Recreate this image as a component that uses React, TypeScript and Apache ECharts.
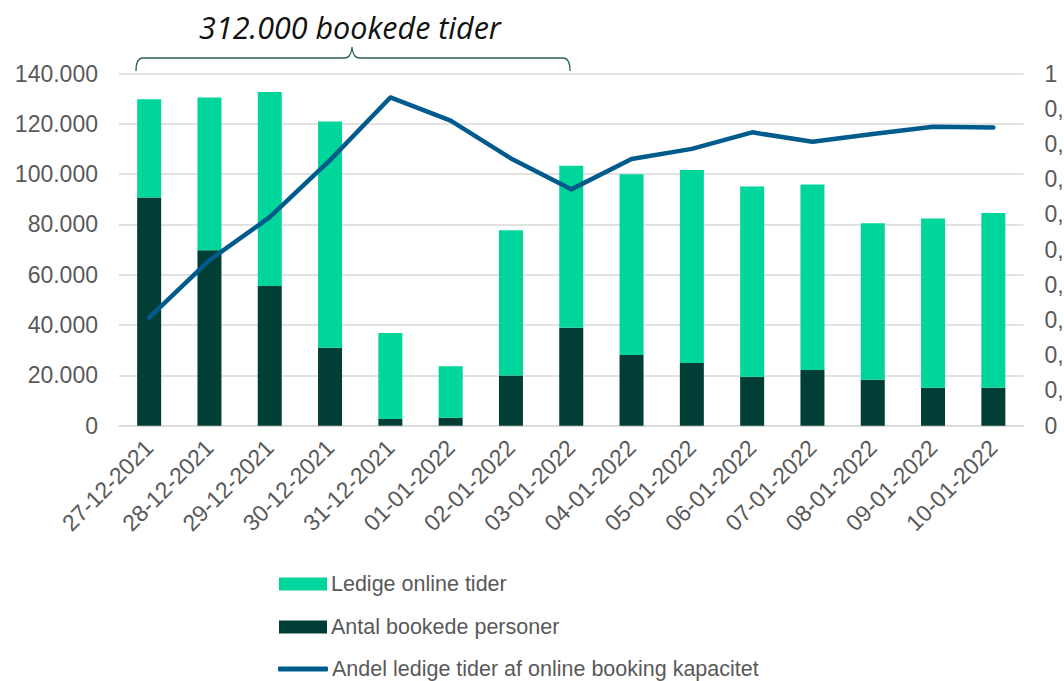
import React, { useEffect, useRef } from "react";
import * as echarts from "echarts";

const categories = [
  "27-12-2021", "28-12-2021", "29-12-2021", "30-12-2021", "31-12-2021",
  "01-01-2022", "02-01-2022", "03-01-2022", "04-01-2022", "05-01-2022",
  "06-01-2022", "07-01-2022", "08-01-2022", "09-01-2022", "10-01-2022",
];
const bookedPersons = [90700, 69700, 55500, 31000, 2700, 3200, 20000, 38900, 28100, 24900, 19500, 22100, 18300, 15100, 15100];
const availableSlots = [39100, 60800, 77100, 89900, 34100, 20400, 57700, 64400, 71900, 76700, 75600, 73800, 62200, 67300, 69400];
const availableShare = [0.307, 0.47, 0.592, 0.754, 0.932, 0.866, 0.759, 0.671, 0.757, 0.786, 0.833, 0.806, 0.828, 0.849, 0.847];

const seriesNames = ["Ledige online tider", "Antal bookede personer", "Andel ledige tider af online booking kapacitet"];
const annotation = "312.000 bookede tider";

const LIGHT = "#00d69b";
const DARK = "#013e35";
const BLUE = "#005b8d";
const LABEL = "#595959";
const GRID = "#d9d9d9";
const FONT = "'Liberation Sans', Arial, sans-serif";

const bracePath =
  "M136,71 C136,63 138,58 143,58 L344,58 C349,58 351,55 352,47 C353,55 355,58 360,58 L563,58 C568,58 570,63 570,71";

let registered = false;
function registerBrace() {
  if (registered) return;
  registered = true;
  echarts.graphic.registerShape("brace", echarts.graphic.extendPath(bracePath, {}) as any);
}

const fmtThousands = (v: number) => String(v).replace(/\B(?=(\d{3})+(?!\d))/g, ".");
const fmtShare = (v: number) => {
  if (v === 0) return "0";
  if (Math.abs(v - 1) < 1e-9) return "1";
  return v.toFixed(1).replace(".", ",");
};

export default function App() {
  const ref = useRef<HTMLDivElement>(null);
  useEffect(() => {
    if (!ref.current) return;
    registerBrace();
    const chart = echarts.init(ref.current, undefined, { renderer: "svg" });
    const legendCommon = {
      orient: "horizontal" as const,
      left: 279,
      padding: 0,
      itemWidth: 48,
      itemHeight: 13,
      selectedMode: false,
      textStyle: { color: LABEL, fontSize: 21.5, fontFamily: FONT, padding: [0, 0, 0, -1] },
    };
    chart.setOption({
      animation: false,
      backgroundColor: "#ffffff",
      grid: { left: 119, right: 40.5, top: 73.5, bottom: 255.3, containLabel: false, outerBoundsMode: "none" },
      legend: [
        { ...legendCommon, top: 573, data: [{ name: seriesNames[0], icon: "rect" }] },
        { ...legendCommon, top: 616, data: [{ name: seriesNames[1], icon: "rect" }] },
        { ...legendCommon, top: 658, itemWidth: 50, itemHeight: 5, left: 278, data: [{ name: seriesNames[2], icon: "roundRect" }] },
      ],
      xAxis: {
        type: "category",
        data: categories,
        axisLine: { show: true, lineStyle: { color: GRID, width: 1.5 } },
        axisTick: { show: false },
        axisLabel: {
          rotate: 45,
          margin: 18,
          color: LABEL,
          fontSize: 23,
          fontFamily: FONT,
          interval: 0,
        },
      },
      yAxis: [
        {
          type: "value",
          min: 0,
          max: 140000,
          interval: 20000,
          axisLine: { show: false },
          axisTick: { show: false },
          splitLine: { show: true, lineStyle: { color: GRID, width: 1.5 } },
          axisLabel: { color: LABEL, fontSize: 23, fontFamily: FONT, margin: 21, formatter: fmtThousands },
        },
        {
          type: "value",
          min: 0,
          max: 1,
          interval: 0.1,
          axisLine: { show: false },
          axisTick: { show: false },
          splitLine: { show: false },
          axisLabel: { color: LABEL, fontSize: 23, fontFamily: FONT, margin: 21, formatter: fmtShare },
        },
      ],
      series: [
        {
          name: seriesNames[1],
          type: "bar",
          stack: "total",
          barWidth: 24,
          data: bookedPersons,
          itemStyle: { color: DARK },
        },
        {
          name: seriesNames[0],
          type: "bar",
          stack: "total",
          barWidth: 24,
          data: availableSlots,
          itemStyle: { color: LIGHT },
        },
        {
          name: seriesNames[2],
          type: "line",
          yAxisIndex: 1,
          data: availableShare,
          symbol: "none",
          z: 5,
          itemStyle: { color: BLUE },
          lineStyle: { color: BLUE, width: 4.5, cap: "round", join: "round" },
        },
      ],
      graphic: [
        {
          type: "brace",
          x: 0,
          y: 0,
          scaleX: 1,
          scaleY: 1,
          style: { stroke: "#2d6458", fill: "none", lineWidth: 1.3 },
          silent: true,
        },
        {
          type: "text",
          x: 350,
          y: 27,
          style: {
            text: annotation,
            fill: "#111111",
            fontSize: 30.5,
            fontStyle: "italic",
            fontFamily: "'Open Sans', Lato, sans-serif",
            align: "center",
            verticalAlign: "middle",
          },
          silent: true,
        },
      ],
    });
    return () => chart.dispose();
  }, []);
  return (
    <div style={{ position: "absolute", left: 0, top: 0, width: 1064, height: 681, overflow: "hidden", background: "#fff" }}>
      <div ref={ref} style={{ width: 1064, height: 681 }} />
    </div>
  );
}
